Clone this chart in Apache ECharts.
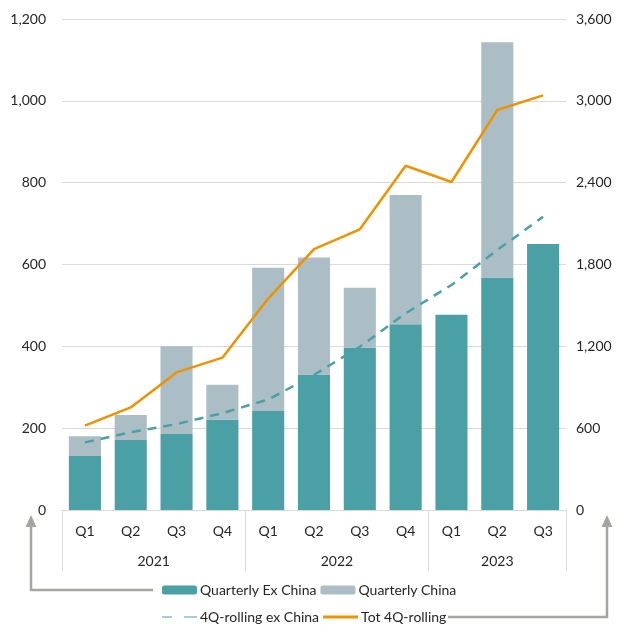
<!DOCTYPE html>
<html>
<head>
<meta charset="utf-8">
<script src="https://cdn.jsdelivr.net/npm/echarts@6/dist/echarts.min.js"></script>
<style>html,body{margin:0;padding:0;background:#fff;}#c{width:620px;height:626px;}</style>
</head>
<body>
<div id="c"></div>
<script>
var quarters = ['Q1','Q2','Q3','Q4','Q1','Q2','Q3','Q4','Q1','Q2','Q3'];
var years = ['2021','2022','2023'];
var yearCenters = [2, 6, 9.5];
var yearBounds = [0, 4, 8, 11];
var exChina = [132, 171, 186, 221, 242, 331, 397, 454, 477, 568, 650];
var china = [48, 61, 214, 85, 350, 286, 146, 316, 0, 575, 0];
var rollingExChina = [496, 570, 630, 710, 810, 990, 1197, 1442, 1650, 1906, 2150];
var totRolling = [618, 752, 1009, 1117, 1550, 1913, 2058, 2524, 2405, 2933, 3040];
var leftTicks = [0, 200, 400, 600, 800, 1000, 1200];
var rightTicks = [0, 600, 1200, 1800, 2400, 3000, 3600];

var FONT = 'Lato';
var TXT = '#262626';
var fmt = function (v) { return v.toLocaleString('en-US'); };

var chart = echarts.init(document.getElementById('c'), null, {renderer: 'canvas'});
chart.setOption({
  animation: false,
  backgroundColor: '#fff',
  textStyle: {fontFamily: FONT},
  grid: {left: 62, right: 54, top: 19, bottom: 116, containLabel: false},
  legend: [{
    left: 162, top: 583, padding: 0, itemWidth: 35, itemHeight: 9, itemGap: 4,
    textStyle: {fontFamily: FONT, fontSize: 14, color: TXT, padding: [0, 0, 0, -2]},
    data: ['Quarterly Ex China', 'Quarterly China']
  }, {
    left: 162, top: 610, padding: 0, itemWidth: 35, itemHeight: 3, itemGap: 4,
    textStyle: {fontFamily: FONT, fontSize: 14, color: TXT, padding: [0, 0, 0, -2]},
    data: [
      {name: '4Q-rolling ex China', icon: 'path://M0,0h10v1h-10z M22,0h13v1h-13z'},
      {name: 'Tot 4Q-rolling', icon: 'rect'}
    ]
  }],
  xAxis: [{
    type: 'category', data: quarters, position: 'bottom',
    axisLine: {lineStyle: {color: '#D9D9D9', width: 1}},
    axisTick: {show: false},
    axisLabel: {fontFamily: FONT, fontSize: 14, color: TXT, margin: 14, interval: 0}
  }, {
    type: 'value', min: 0, max: 11, position: 'bottom',
    axisLine: {show: false},
    splitLine: {show: false},
    axisTick: {show: true, customValues: yearBounds, length: 61, lineStyle: {color: '#D9D9D9', width: 1}},
    axisLabel: {
      customValues: yearCenters, fontFamily: FONT, fontSize: 14, color: TXT, margin: 44,
      formatter: function (v) { var i = yearCenters.indexOf(v); return i >= 0 ? years[i] : ''; }
    }
  }],
  yAxis: [{
    type: 'value', min: 0, max: 1200, interval: 200,
    axisLine: {show: false}, axisTick: {show: false},
    splitLine: {lineStyle: {color: '#D9D9D9', width: 1}},
    axisLabel: {fontFamily: FONT, fontSize: 14, color: TXT, margin: 16,
      formatter: function (v) { return leftTicks.indexOf(v) >= 0 ? fmt(v) : ''; }}
  }, {
    type: 'value', min: 0, max: 3600, interval: 600, position: 'right',
    axisLine: {show: false}, axisTick: {show: false}, splitLine: {show: false},
    axisLabel: {fontFamily: FONT, fontSize: 14, color: TXT, margin: 10,
      formatter: function (v) { return rightTicks.indexOf(v) >= 0 ? fmt(v) : ''; }}
  }],
  series: [{
    name: 'Quarterly Ex China', type: 'bar', stack: 'q', data: exChina,
    barCategoryGap: '30%', itemStyle: {color: '#4BA0A6'}
  }, {
    name: 'Quarterly China', type: 'bar', stack: 'q', data: china,
    itemStyle: {color: '#ABBEC6'}
  }, {
    name: '4Q-rolling ex China', type: 'line', yAxisIndex: 1, data: rollingExChina,
    symbol: 'none', lineStyle: {color: '#4BA0A6', width: 2.5, type: [9, 7]},
    itemStyle: {color: '#4BA0A6'}
  }, {
    name: 'Tot 4Q-rolling', type: 'line', yAxisIndex: 1, data: totRolling,
    symbol: 'none', lineStyle: {color: '#EE9300', width: 2.5},
    itemStyle: {color: '#EE9300'}
  }],
  graphic: [{
    type: 'polyline', shape: {points: [[153, 590], [31, 590], [31, 525]]},
    style: {stroke: '#A5A5A0', lineWidth: 2.5, fill: null}
  }, {
    type: 'polygon', shape: {points: [[31, 515], [25.5, 527], [36.5, 527]]},
    style: {fill: '#A5A5A0'}
  }, {
    type: 'polyline', shape: {points: [[448, 617], [607, 617], [607, 525]]},
    style: {stroke: '#A5A5A0', lineWidth: 2.5, fill: null}
  }, {
    type: 'polygon', shape: {points: [[607, 515], [601.5, 527], [612.5, 527]]},
    style: {fill: '#A5A5A0'}
  }]
});
</script>
</body>
</html>
